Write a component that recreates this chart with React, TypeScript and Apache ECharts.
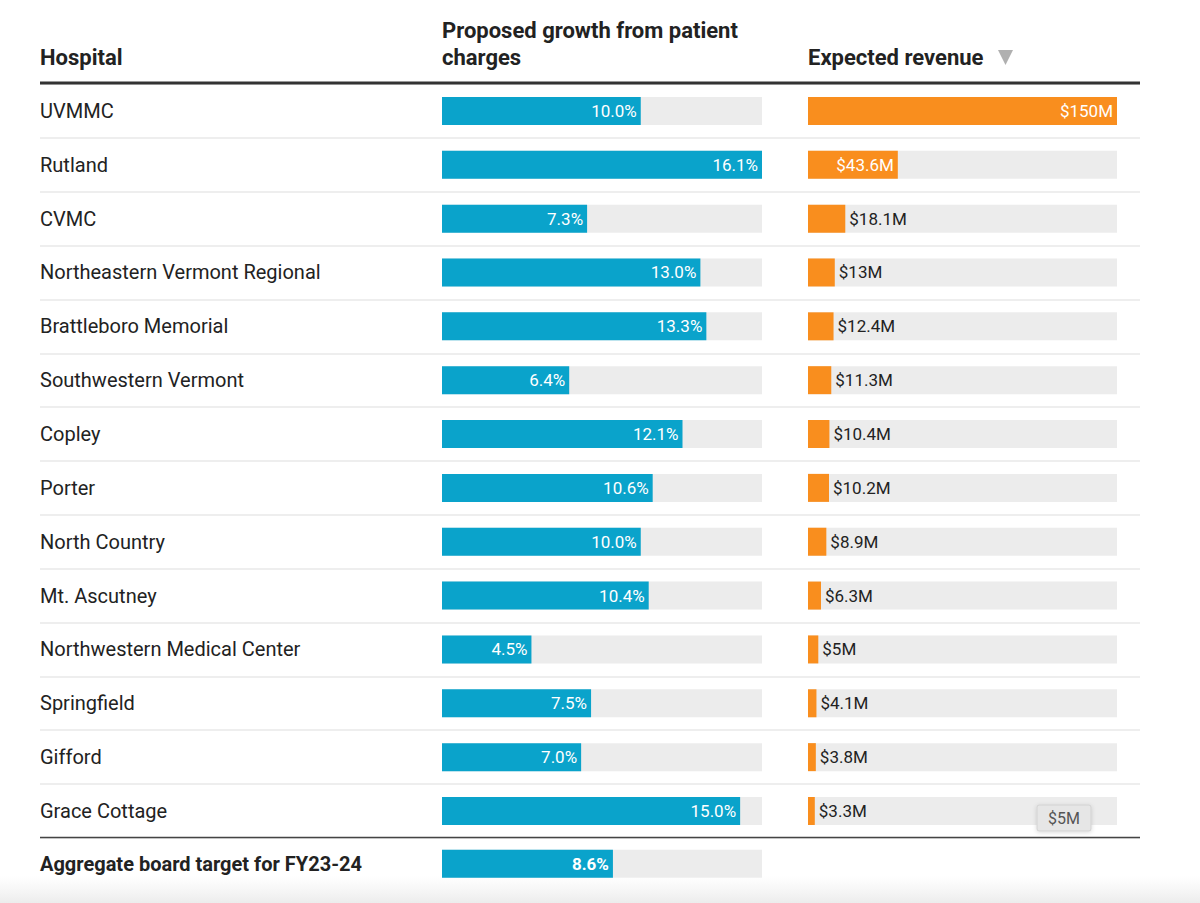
import React, { useEffect, useRef } from "react";
import * as echarts from "echarts";

const hospitals = [
  "UVMMC",
  "Rutland",
  "CVMC",
  "Northeastern Vermont Regional",
  "Brattleboro Memorial",
  "Southwestern Vermont",
  "Copley",
  "Porter",
  "North Country",
  "Mt. Ascutney",
  "Northwestern Medical Center",
  "Springfield",
  "Gifford",
  "Grace Cottage",
];
const growthPct = [10.0, 16.1, 7.3, 13.0, 13.3, 6.4, 12.1, 10.6, 10.0, 10.4, 4.5, 7.5, 7.0, 15.0];
const revenueM = [150, 43.6, 18.1, 13, 12.4, 11.3, 10.4, 10.2, 8.9, 6.3, 5, 4.1, 3.8, 3.3];
const aggregateLabel = "Aggregate board target for FY23-24";
const aggregatePct = [8.6];
const headers = ["Hospital", "Proposed growth from patient", "charges", "Expected revenue"];
const tooltipText = "$5M";

const BLUE = "#0aa3cb";
const ORANGE = "#f98e1e";
const TRACK = "#ececec";
const DARK = "#222222";
const FONT = "Roboto, 'Noto Sans', sans-serif";

export default function App() {
  const ref = useRef<HTMLDivElement>(null);
  useEffect(() => {
    if (!ref.current) return;
    const chart = echarts.init(ref.current, null, { renderer: "svg" });
    const growthMax = Math.max(...growthPct);
    const revMax = Math.max(...revenueM);
    const rowTop = 84;
    const rowH = 53.85;
    const h = hospitals.length * rowH;

    const option: any = {
      animation: false,
      backgroundColor: "#ffffff",
      textStyle: { fontFamily: FONT },
      grid: [
        { left: 40, width: 1100, top: rowTop, height: h },
        { left: 442, width: 320, top: rowTop, height: h },
        { left: 808, width: 309, top: rowTop, height: h },
        { left: 442, width: 320, top: rowTop + h - 1, height: rowH },
      ],
      xAxis: [
        { gridIndex: 0, type: "value", show: false, min: 0, max: 1 },
        { gridIndex: 1, type: "value", show: false, min: 0, max: growthMax },
        { gridIndex: 2, type: "value", show: false, min: 0, max: revMax },
        { gridIndex: 3, type: "value", show: false, min: 0, max: growthMax },
      ],
      yAxis: [
        {
          gridIndex: 0,
          type: "category",
          data: hospitals,
          inverse: true,
          axisLine: { show: false },
          axisTick: { show: false },
          axisLabel: { show: false },
          splitLine: { show: true, lineStyle: { color: "#e8e8e8", width: 1.5 } },
        },
        {
          gridIndex: 1,
          type: "category",
          data: hospitals,
          inverse: true,
          axisLine: { show: false },
          axisTick: { show: false },
          axisLabel: {
            align: "left",
            margin: 402,
            color: DARK,
            fontSize: 20,
            fontFamily: FONT,
          },
        },
        {
          gridIndex: 2,
          type: "category",
          data: hospitals,
          inverse: true,
          show: false,
        },
        {
          gridIndex: 3,
          type: "category",
          data: [aggregateLabel],
          axisLine: { show: false },
          axisTick: { show: false },
          axisLabel: {
            align: "left",
            margin: 402,
            color: DARK,
            fontSize: 20,
            fontWeight: "bold",
            fontFamily: FONT,
          },
        },
      ],
      series: [
        {
          type: "bar",
          xAxisIndex: 1,
          yAxisIndex: 1,
          data: growthPct,
          barWidth: 28,
          itemStyle: { color: BLUE },
          showBackground: true,
          backgroundStyle: { color: TRACK },
          label: {
            show: true,
            position: "insideRight",
            distance: 4,
            color: "#ffffff",
            fontSize: 17,
            fontFamily: FONT,
            formatter: (p: any) => `${Number(p.value).toFixed(1)}%`,
          },
        },
        {
          type: "bar",
          xAxisIndex: 2,
          yAxisIndex: 2,
          barWidth: 28,
          itemStyle: { color: ORANGE },
          showBackground: true,
          backgroundStyle: { color: TRACK },
          data: revenueM.map((v) => ({
            value: v,
            label:
              v > 30
                ? { position: "insideRight", color: "#ffffff" }
                : { position: "right", color: DARK },
          })),
          label: {
            show: true,
            distance: 4,
            fontSize: 17,
            fontFamily: FONT,
            formatter: (p: any) => `$${p.value}M`,
          },
        },
        {
          type: "bar",
          xAxisIndex: 3,
          yAxisIndex: 3,
          data: aggregatePct,
          barWidth: 28,
          itemStyle: { color: BLUE },
          showBackground: true,
          backgroundStyle: { color: TRACK },
          label: {
            show: true,
            position: "insideRight",
            distance: 4,
            color: "#ffffff",
            fontSize: 17,
            fontWeight: "bold",
            fontFamily: FONT,
            formatter: (p: any) => `${Number(p.value).toFixed(1)}%`,
          },
        },
      ],
      graphic: [
        {
          type: "rect",
          left: 0,
          top: 876,
          shape: { width: 1200, height: 27 },
          style: {
            fill: new echarts.graphic.LinearGradient(0, 0, 0, 1, [
              { offset: 0, color: "rgba(240,240,240,0)" },
              { offset: 1, color: "rgba(236,236,236,1)" },
            ]),
          },
          z: -1,
        },
        {
          type: "text",
          x: 40,
          y: 57,
          style: { text: headers[0], fill: DARK, font: `bold 22px ${FONT}`, textVerticalAlign: "middle" },
        },
        {
          type: "text",
          x: 442,
          y: 30,
          style: { text: headers[1], fill: DARK, font: `bold 22px ${FONT}`, textVerticalAlign: "middle" },
        },
        {
          type: "text",
          x: 442,
          y: 57,
          style: { text: headers[2], fill: DARK, font: `bold 22px ${FONT}`, textVerticalAlign: "middle" },
        },
        {
          type: "text",
          x: 808,
          y: 57,
          style: { text: headers[3], fill: DARK, font: `bold 22px ${FONT}`, textVerticalAlign: "middle" },
        },
        {
          type: "polygon",
          shape: { points: [[998, 50], [1013, 50], [1005.5, 65]] },
          style: { fill: "#b0b0b0" },
        },
        {
          type: "line",
          shape: { x1: 40, y1: 83, x2: 1140, y2: 83 },
          style: { stroke: "#333333", lineWidth: 3 },
          z: 10,
        },
        {
          type: "line",
          shape: { x1: 40, y1: 837.5, x2: 1140, y2: 837.5 },
          style: { stroke: "#444444", lineWidth: 1.5 },
          z: 10,
        },
        {
          type: "rect",
          shape: { x: 1037, y: 805, width: 54, height: 26, r: 2 },
          style: {
            fill: "#e6e6e6",
            stroke: "#d2d2d2",
            lineWidth: 1,
            shadowBlur: 4,
            shadowColor: "rgba(0,0,0,0.15)",
            shadowOffsetY: 1,
          },
          z: 20,
        },
        {
          type: "text",
          x: 1064,
          y: 818,
          style: {
            text: tooltipText,
            fill: "#555555",
            font: `16px ${FONT}`,
            textAlign: "center",
            textVerticalAlign: "middle",
          },
          z: 21,
        },
      ],
    };
    chart.setOption(option);
    return () => chart.dispose();
  }, []);
  return (
    <div
      ref={ref}
      style={{ position: "absolute", left: 0, top: 0, width: 1200, height: 903 }}
    />
  );
}
